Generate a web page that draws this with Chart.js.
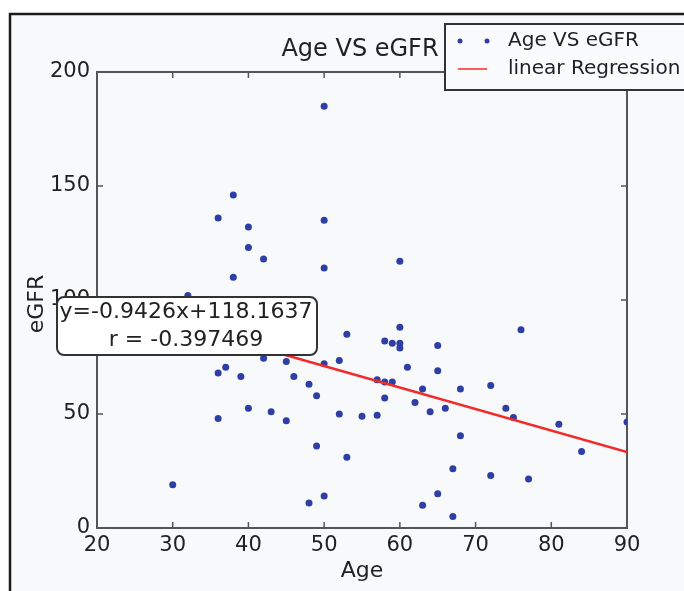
<!DOCTYPE html>
<html>
<head>
<meta charset="utf-8">
<script src="https://cdn.jsdelivr.net/npm/chart.js"></script>
<style>
*{margin:0;padding:0;box-sizing:border-box}
body{background:#fff;width:684px;height:591px;overflow:hidden}
canvas{display:block}
</style>
</head>
<body>
<canvas id="c" width="684" height="591"></canvas>
<script>
// scatter data
const ages = [50, 38, 36, 50, 40, 40, 42, 60, 50, 38, 32, 53, 60, 76, 58, 59, 60, 60, 65, 42,
  45, 50, 52, 61, 65, 36, 37, 39, 46, 57, 58, 59, 48, 63, 68, 72, 49, 58, 62, 40,
  43, 64, 66, 74, 52, 55, 57, 75, 36, 45, 81, 90, 68, 49, 84, 53, 67, 72, 77, 30,
  65, 50, 48, 63, 67];
const egfr = [185, 146, 136, 135, 132, 123, 118, 117, 114, 110, 102, 85, 88, 87, 82, 81, 81, 79, 80, 74.5,
  73, 72, 73.5, 70.5, 69, 68, 70.5, 66.5, 66.5, 65, 64, 64, 63, 61, 61, 62.5, 58, 57, 55, 52.5,
  51, 51, 52.5, 52.5, 50, 49, 49.5, 48.5, 48, 47, 45.5, 46.5, 40.5, 36, 33.5, 31, 26, 23, 21.5, 19,
  15, 14, 11, 10, 5];

// regression line end points
const fitAges = [30, 90];
const fitEgfr = [89.9, 33.3];

const xTicks = [20, 30, 40, 50, 60, 70, 80, 90];
const yTicks = [0, 50, 100, 150, 200];

const titleText = "Age VS eGFR";
const xTitle = "Age";
const yTitle = "eGFR";
const legendLabels = ["Age VS eGFR", "linear Regression"];
const fitText = ["y=-0.9426x+118.1637", "r = -0.397469"];

const FONT = "'DejaVu Sans', sans-serif";
const INK = "#222";
const SPINE = "#555";
const DOT = "#2f3ea5";
const RED = "#f22a2a";

const decor = {
  id: "decor",
  beforeDraw(chart) {
    const ctx = chart.ctx;
    ctx.save();
    ctx.fillStyle = "#fff";
    ctx.fillRect(0, 0, chart.width, chart.height);
    ctx.fillStyle = "#f8f9fb";
    ctx.fillRect(10, 14, 700, 600);
    ctx.strokeStyle = "#1a1a1a";
    ctx.lineWidth = 2.5;
    ctx.strokeRect(10, 14, 700, 600);
    ctx.restore();
  },
  beforeDatasetsDraw(chart) {
    const { ctx, chartArea: a, scales: { x, y } } = chart;
    ctx.save();
    ctx.strokeStyle = SPINE;
    ctx.lineWidth = 2;
    ctx.beginPath();
    ctx.moveTo(a.left, a.top); ctx.lineTo(a.right, a.top); ctx.lineTo(a.right, a.bottom);
    ctx.stroke();
    // inward ticks on every side
    ctx.lineWidth = 1.5;
    ctx.beginPath();
    xTicks.forEach(v => {
      const px = x.getPixelForValue(v);
      ctx.moveTo(px, a.bottom); ctx.lineTo(px, a.bottom - 6);
      ctx.moveTo(px, a.top); ctx.lineTo(px, a.top + 6);
    });
    yTicks.forEach(v => {
      const py = y.getPixelForValue(v);
      ctx.moveTo(a.left, py); ctx.lineTo(a.left + 6, py);
      ctx.moveTo(a.right, py); ctx.lineTo(a.right - 6, py);
    });
    ctx.stroke();
    ctx.restore();
  },
  afterDraw(chart) {
    const { ctx, chartArea: a } = chart;
    ctx.save();
    ctx.fillStyle = INK;
    ctx.textAlign = "center";
    ctx.textBaseline = "middle";
    ctx.font = "24px " + FONT;
    ctx.fillText(titleText, (a.left + a.right) / 2 - 2, 50);
    ctx.font = "22px " + FONT;
    ctx.fillText(xTitle, (a.left + a.right) / 2, 571);
    ctx.save();
    ctx.translate(37, (a.top + a.bottom) / 2 + 4);
    ctx.rotate(-Math.PI / 2);
    ctx.fillText(yTitle, 0, 0);
    ctx.restore();

    // fit annotation box
    ctx.beginPath();
    ctx.roundRect(57, 297, 260, 58, 7);
    ctx.fillStyle = "#fff";
    ctx.fill();
    ctx.strokeStyle = "#333";
    ctx.lineWidth = 2;
    ctx.stroke();
    ctx.fillStyle = INK;
    ctx.font = "22px " + FONT;
    ctx.fillText(fitText[0], 186, 312);
    ctx.fillText(fitText[1], 186, 340);

    // legend
    ctx.fillStyle = "#fafbfc";
    ctx.fillRect(445, 24, 260, 66);
    ctx.strokeStyle = "#333";
    ctx.lineWidth = 2;
    ctx.strokeRect(445, 24, 260, 66);
    ctx.fillStyle = DOT;
    [460, 487].forEach(cx => {
      ctx.beginPath(); ctx.arc(cx, 41, 2.5, 0, Math.PI * 2); ctx.fill();
    });
    ctx.strokeStyle = "#ff5a5a";
    ctx.lineWidth = 2;
    ctx.beginPath(); ctx.moveTo(458, 69); ctx.lineTo(487, 69); ctx.stroke();
    ctx.fillStyle = INK;
    ctx.textAlign = "left";
    ctx.font = "20px " + FONT;
    ctx.fillText(legendLabels[0], 508, 41);
    ctx.fillText(legendLabels[1], 508, 69);
    ctx.restore();
  }
};

new Chart(document.getElementById("c"), {
  type: "scatter",
  data: {
    datasets: [
      {
        label: legendLabels[0],
        data: ages.map((a, i) => ({ x: a, y: egfr[i] })),
        backgroundColor: DOT,
        borderWidth: 0,
        pointRadius: 3.5,
        order: 2
      },
      {
        type: "line",
        label: legendLabels[1],
        data: fitAges.map((a, i) => ({ x: a, y: fitEgfr[i] })),
        borderColor: RED,
        borderWidth: 2.5,
        pointRadius: 0,
        fill: false,
        order: 1
      }
    ]
  },
  options: {
    responsive: false,
    animation: false,
    events: [],
    layout: { padding: { top: 72, right: 57, left: 0, bottom: 0 } },
    plugins: { legend: { display: false }, tooltip: { enabled: false } },
    scales: {
      x: {
        min: 20, max: 90,
        afterBuildTicks: s => { s.ticks = xTicks.map(v => ({ value: v })); },
        afterFit: s => { s.height = 63; },
        grid: { display: false, drawTicks: false },
        border: { display: true, color: SPINE, width: 2 },
        ticks: { color: INK, padding: 5, font: { family: FONT, size: 21 } }
      },
      y: {
        min: 0, max: 200,
        afterBuildTicks: s => { s.ticks = yTicks.map(v => ({ value: v })); },
        afterFit: s => { s.width = 97; },
        grid: { display: false, drawTicks: false },
        border: { display: true, color: SPINE, width: 2 },
        ticks: { color: INK, padding: 7, font: { family: FONT, size: 21 } }
      }
    }
  },
  plugins: [decor]
});
</script>
</body>
</html>
